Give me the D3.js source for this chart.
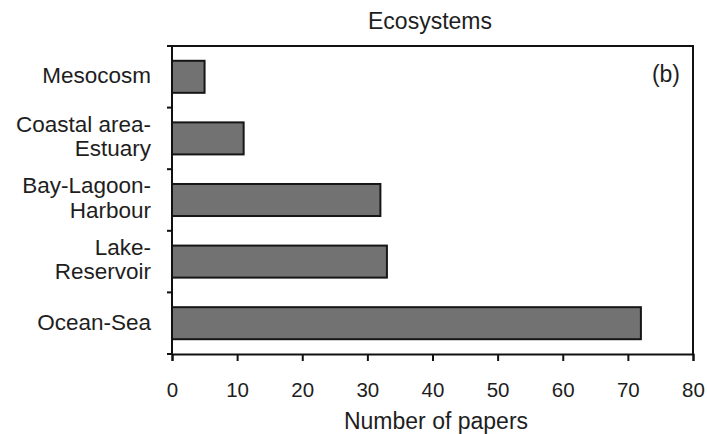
<!DOCTYPE html>
<html>
<head>
<meta charset="utf-8">
<script src="https://cdn.jsdelivr.net/npm/d3@7"></script>
<style>
  html, body { margin: 0; padding: 0; background: #fff; }
  svg { display: block; font-family: "Liberation Sans", Arial, sans-serif; }
</style>
</head>
<body>
<svg id="chart" width="707" height="434"></svg>
<script>
// Number of papers by ecosystem type
const categories = [
  ["Mesocosm"],
  ["Coastal area-", "Estuary"],
  ["Bay-Lagoon-", "Harbour"],
  ["Lake-", "Reservoir"],
  ["Ocean-Sea"]
];
const papers = [5, 11, 32, 33, 72];
const xTicks = [0, 10, 20, 30, 40, 50, 60, 70, 80];

const svg = d3.select("#chart");
const margin = { top: 46, right: 14, bottom: 80, left: 172 };
const W = 707, H = 434;
const plotL = margin.left, plotR = W - margin.right;
const plotT = margin.top, plotB = H - margin.bottom;
const ink = "#1e1e1e";
const labelSize = 22.5;

const keys = categories.map(c => c.join(" "));
const x = d3.scaleLinear().domain([0, 80]).range([plotL, plotR]);
const y = d3.scaleBand().domain(keys).range([plotT, plotB]).paddingInner(0.48).paddingOuter(0.24);

const g = svg.append("g");

// bars
g.selectAll("rect.bar")
  .data(papers)
  .join("rect")
  .attr("class", "bar")
  .attr("x", x(0))
  .attr("y", (d, i) => y(keys[i]))
  .attr("width", d => x(d) - x(0))
  .attr("height", y.bandwidth())
  .attr("fill", "#727272")
  .attr("stroke", "#161616")
  .attr("stroke-width", 2);

// frame: top and right edges
g.append("path")
  .attr("d", `M${plotL},${plotT}H${plotR}V${plotB}`)
  .attr("fill", "none")
  .attr("stroke", "#111")
  .attr("stroke-width", 2);

// x axis
const xAxis = g.append("g")
  .attr("transform", `translate(0,${plotB})`)
  .call(d3.axisBottom(x).tickValues(xTicks).tickSize(7).tickPadding(21).tickFormat(d3.format("d")));
xAxis.select(".domain").attr("stroke", "#111").attr("stroke-width", 2);
xAxis.selectAll(".tick line").attr("stroke", "#111").attr("stroke-width", 2);
xAxis.selectAll(".tick text")
  .attr("font-size", 20.5)
  .attr("fill", ink)
  .attr("font-family", "Liberation Sans, Arial, sans-serif");

// y axis: ticks at band boundaries
const boundaries = d3.range(keys.length + 1).map(i => plotT + i * (plotB - plotT) / keys.length);
g.append("line")
  .attr("x1", plotL).attr("x2", plotL)
  .attr("y1", plotT).attr("y2", plotB)
  .attr("stroke", "#111").attr("stroke-width", 2);
g.selectAll("line.ytick")
  .data(boundaries)
  .join("line")
  .attr("class", "ytick")
  .attr("x1", plotL - 5).attr("x2", plotL)
  .attr("y1", d => d).attr("y2", d => d)
  .attr("stroke", "#111").attr("stroke-width", 2);

// category labels
const labelX = 151;
const labels = g.selectAll("text.cat")
  .data(categories)
  .join("text")
  .attr("class", "cat")
  .attr("text-anchor", "end")
  .attr("font-size", labelSize)
  .attr("fill", ink)
  .attr("x", labelX)
  .attr("y", (d, i) => y(keys[i]) + y.bandwidth() / 2);
labels.each(function(lines) {
  const t = d3.select(this);
  const n = lines.length;
  lines.forEach((ln, j) => {
    t.append("tspan")
      .attr("x", labelX)
      .attr("dy", j === 0 ? (n === 1 ? "0.28em" : "-0.29em") : "1.07em")
      .text(ln);
  });
});

// title
svg.append("text")
  .attr("x", 430).attr("y", 29)
  .attr("text-anchor", "middle")
  .attr("font-size", 23)
  .attr("fill", ink)
  .text("Ecosystems");

// panel tag
svg.append("text")
  .attr("x", 680).attr("y", 82)
  .attr("text-anchor", "end")
  .attr("font-size", 23)
  .attr("fill", ink)
  .text("(b)");

// x axis title
svg.append("text")
  .attr("x", 436).attr("y", 429)
  .attr("text-anchor", "middle")
  .attr("font-size", 23)
  .attr("fill", ink)
  .text("Number of papers");
</script>
</body>
</html>
